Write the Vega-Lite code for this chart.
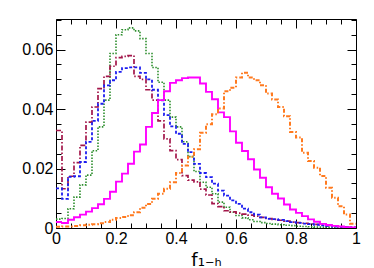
{
  "$schema": "https://vega.github.io/schema/vega-lite/v6.json",
  "width": 300,
  "height": 209,
  "autosize": {"type": "none"},
  "padding": {"left": 56, "top": 19, "right": 18, "bottom": 40},
  "background": "white",
  "config": {
    "view": {"stroke": "black", "strokeWidth": 1},
    "font": "Liberation Sans",
    "axis": {
      "domain": false,
      "grid": false,
      "tickColor": "black",
      "tickWidth": 1,
      "labelColor": "black",
      "labelFont": "Liberation Sans",
      "labelFontSize": 16,
      "labelFlush": false,
      "labelOverlap": false,
      "format": "~g"
    }
  },
  "data": {
    "values": [
      {"s":"G","x":0.00,"y":0.0030},{"s":"G","x":0.02,"y":0.0032},{"s":"G","x":0.04,"y":0.0065},{"s":"G","x":0.06,"y":0.0104},{"s":"G","x":0.08,"y":0.0145},
      {"s":"G","x":0.10,"y":0.0178},{"s":"G","x":0.12,"y":0.0260},{"s":"G","x":0.14,"y":0.0340},{"s":"G","x":0.16,"y":0.0430},{"s":"G","x":0.18,"y":0.0587},
      {"s":"G","x":0.20,"y":0.0650},{"s":"G","x":0.22,"y":0.0667},{"s":"G","x":0.24,"y":0.0673},{"s":"G","x":0.26,"y":0.0663},{"s":"G","x":0.28,"y":0.0637},
      {"s":"G","x":0.30,"y":0.0587},{"s":"G","x":0.32,"y":0.0540},{"s":"G","x":0.34,"y":0.0490},{"s":"G","x":0.36,"y":0.0430},{"s":"G","x":0.38,"y":0.0373},
      {"s":"G","x":0.40,"y":0.0340},{"s":"G","x":0.42,"y":0.0290},{"s":"G","x":0.44,"y":0.0240},{"s":"G","x":0.46,"y":0.0190},{"s":"G","x":0.48,"y":0.0154},
      {"s":"G","x":0.50,"y":0.0137},{"s":"G","x":0.52,"y":0.0115},{"s":"G","x":0.54,"y":0.0087},{"s":"G","x":0.56,"y":0.0070},{"s":"G","x":0.58,"y":0.0053},
      {"s":"G","x":0.60,"y":0.0042},{"s":"G","x":0.62,"y":0.0034},{"s":"G","x":0.64,"y":0.0028},{"s":"G","x":0.66,"y":0.0022},{"s":"G","x":0.68,"y":0.0018},
      {"s":"G","x":0.70,"y":0.0015},{"s":"G","x":0.72,"y":0.0013},{"s":"G","x":0.74,"y":0.0011},{"s":"G","x":0.76,"y":0.0009},{"s":"G","x":0.78,"y":0.0008},
      {"s":"G","x":0.80,"y":0.0006},{"s":"G","x":0.82,"y":0.0005},{"s":"G","x":0.84,"y":0.0004},{"s":"G","x":0.86,"y":0.0003},{"s":"G","x":0.88,"y":0.0003},
      {"s":"G","x":0.90,"y":0.0002},{"s":"G","x":0.92,"y":0.0001},{"s":"G","x":0.94,"y":0.0001},{"s":"G","x":0.96,"y":0.0001},{"s":"G","x":0.98,"y":0.0001},
      {"s":"G","x":1.00,"y":0.0001},

      {"s":"M","x":0.00,"y":0.0328},{"s":"M","x":0.02,"y":0.0132},{"s":"M","x":0.04,"y":0.0174},{"s":"M","x":0.06,"y":0.0220},{"s":"M","x":0.08,"y":0.0278},
      {"s":"M","x":0.10,"y":0.0356},{"s":"M","x":0.12,"y":0.0407},{"s":"M","x":0.14,"y":0.0469},{"s":"M","x":0.16,"y":0.0510},{"s":"M","x":0.18,"y":0.0544},
      {"s":"M","x":0.20,"y":0.0573},{"s":"M","x":0.22,"y":0.0577},{"s":"M","x":0.24,"y":0.0580},{"s":"M","x":0.26,"y":0.0510},{"s":"M","x":0.28,"y":0.0500},
      {"s":"M","x":0.30,"y":0.0465},{"s":"M","x":0.32,"y":0.0430},{"s":"M","x":0.34,"y":0.0360},{"s":"M","x":0.36,"y":0.0300},{"s":"M","x":0.38,"y":0.0260},
      {"s":"M","x":0.40,"y":0.0230},{"s":"M","x":0.42,"y":0.0176},{"s":"M","x":0.44,"y":0.0161},{"s":"M","x":0.46,"y":0.0155},{"s":"M","x":0.48,"y":0.0131},
      {"s":"M","x":0.50,"y":0.0111},{"s":"M","x":0.52,"y":0.0082},{"s":"M","x":0.54,"y":0.0072},{"s":"M","x":0.56,"y":0.0058},{"s":"M","x":0.58,"y":0.0054},
      {"s":"M","x":0.60,"y":0.0050},{"s":"M","x":0.62,"y":0.0047},{"s":"M","x":0.64,"y":0.0043},{"s":"M","x":0.66,"y":0.0040},{"s":"M","x":0.68,"y":0.0036},
      {"s":"M","x":0.70,"y":0.0032},{"s":"M","x":0.72,"y":0.0029},{"s":"M","x":0.74,"y":0.0026},{"s":"M","x":0.76,"y":0.0023},{"s":"M","x":0.78,"y":0.0020},
      {"s":"M","x":0.80,"y":0.0018},{"s":"M","x":0.82,"y":0.0016},{"s":"M","x":0.84,"y":0.0014},{"s":"M","x":0.86,"y":0.0012},{"s":"M","x":0.88,"y":0.0010},
      {"s":"M","x":0.90,"y":0.0008},{"s":"M","x":0.92,"y":0.0006},{"s":"M","x":0.94,"y":0.0005},{"s":"M","x":0.96,"y":0.0003},{"s":"M","x":0.98,"y":0.0002},
      {"s":"M","x":1.00,"y":0.0002},

      {"s":"B","x":0.00,"y":0.0133},{"s":"B","x":0.02,"y":0.0098},{"s":"B","x":0.04,"y":0.0172},{"s":"B","x":0.06,"y":0.0174},{"s":"B","x":0.08,"y":0.0222},
      {"s":"B","x":0.10,"y":0.0290},{"s":"B","x":0.12,"y":0.0360},{"s":"B","x":0.14,"y":0.0418},{"s":"B","x":0.16,"y":0.0480},{"s":"B","x":0.18,"y":0.0497},
      {"s":"B","x":0.20,"y":0.0525},{"s":"B","x":0.22,"y":0.0538},{"s":"B","x":0.24,"y":0.0540},{"s":"B","x":0.26,"y":0.0540},{"s":"B","x":0.28,"y":0.0522},
      {"s":"B","x":0.30,"y":0.0500},{"s":"B","x":0.32,"y":0.0465},{"s":"B","x":0.34,"y":0.0429},{"s":"B","x":0.36,"y":0.0380},{"s":"B","x":0.38,"y":0.0342},
      {"s":"B","x":0.40,"y":0.0317},{"s":"B","x":0.42,"y":0.0283},{"s":"B","x":0.44,"y":0.0255},{"s":"B","x":0.46,"y":0.0216},{"s":"B","x":0.48,"y":0.0185},
      {"s":"B","x":0.50,"y":0.0171},{"s":"B","x":0.52,"y":0.0149},{"s":"B","x":0.54,"y":0.0126},{"s":"B","x":0.56,"y":0.0109},{"s":"B","x":0.58,"y":0.0093},
      {"s":"B","x":0.60,"y":0.0081},{"s":"B","x":0.62,"y":0.0065},{"s":"B","x":0.64,"y":0.0053},{"s":"B","x":0.66,"y":0.0045},{"s":"B","x":0.68,"y":0.0036},
      {"s":"B","x":0.70,"y":0.0031},{"s":"B","x":0.72,"y":0.0030},{"s":"B","x":0.74,"y":0.0027},{"s":"B","x":0.76,"y":0.0023},{"s":"B","x":0.78,"y":0.0020},
      {"s":"B","x":0.80,"y":0.0017},{"s":"B","x":0.82,"y":0.0015},{"s":"B","x":0.84,"y":0.0013},{"s":"B","x":0.86,"y":0.0011},{"s":"B","x":0.88,"y":0.0009},
      {"s":"B","x":0.90,"y":0.0007},{"s":"B","x":0.92,"y":0.0005},{"s":"B","x":0.94,"y":0.0004},{"s":"B","x":0.96,"y":0.0003},{"s":"B","x":0.98,"y":0.0002},
      {"s":"B","x":1.00,"y":0.0002},

      {"s":"P","x":0.00,"y":0.0020},{"s":"P","x":0.02,"y":0.0017},{"s":"P","x":0.04,"y":0.0028},{"s":"P","x":0.06,"y":0.0036},{"s":"P","x":0.08,"y":0.0045},
      {"s":"P","x":0.10,"y":0.0055},{"s":"P","x":0.12,"y":0.0067},{"s":"P","x":0.14,"y":0.0080},{"s":"P","x":0.16,"y":0.0098},{"s":"P","x":0.18,"y":0.0122},
      {"s":"P","x":0.20,"y":0.0156},{"s":"P","x":0.22,"y":0.0183},{"s":"P","x":0.24,"y":0.0216},{"s":"P","x":0.26,"y":0.0257},{"s":"P","x":0.28,"y":0.0281},
      {"s":"P","x":0.30,"y":0.0340},{"s":"P","x":0.32,"y":0.0387},{"s":"P","x":0.34,"y":0.0430},{"s":"P","x":0.36,"y":0.0460},{"s":"P","x":0.38,"y":0.0488},
      {"s":"P","x":0.40,"y":0.0497},{"s":"P","x":0.42,"y":0.0504},{"s":"P","x":0.44,"y":0.0506},{"s":"P","x":0.46,"y":0.0506},{"s":"P","x":0.48,"y":0.0486},
      {"s":"P","x":0.50,"y":0.0458},{"s":"P","x":0.52,"y":0.0433},{"s":"P","x":0.54,"y":0.0389},{"s":"P","x":0.56,"y":0.0373},{"s":"P","x":0.58,"y":0.0325},
      {"s":"P","x":0.60,"y":0.0287},{"s":"P","x":0.62,"y":0.0259},{"s":"P","x":0.64,"y":0.0231},{"s":"P","x":0.66,"y":0.0197},{"s":"P","x":0.68,"y":0.0169},
      {"s":"P","x":0.70,"y":0.0137},{"s":"P","x":0.72,"y":0.0115},{"s":"P","x":0.74,"y":0.0099},{"s":"P","x":0.76,"y":0.0079},{"s":"P","x":0.78,"y":0.0062},
      {"s":"P","x":0.80,"y":0.0051},{"s":"P","x":0.82,"y":0.0040},{"s":"P","x":0.84,"y":0.0029},{"s":"P","x":0.86,"y":0.0021},{"s":"P","x":0.88,"y":0.0014},
      {"s":"P","x":0.90,"y":0.0010},{"s":"P","x":0.92,"y":0.0007},{"s":"P","x":0.94,"y":0.0005},{"s":"P","x":0.96,"y":0.0003},{"s":"P","x":0.98,"y":0.0002},
      {"s":"P","x":1.00,"y":0.0002},

      {"s":"O","x":0.00,"y":0.0004},{"s":"O","x":0.02,"y":0.0005},{"s":"O","x":0.04,"y":0.0005},{"s":"O","x":0.06,"y":0.0007},{"s":"O","x":0.08,"y":0.0009},
      {"s":"O","x":0.10,"y":0.0011},{"s":"O","x":0.12,"y":0.0013},{"s":"O","x":0.14,"y":0.0016},{"s":"O","x":0.16,"y":0.0020},{"s":"O","x":0.18,"y":0.0028},
      {"s":"O","x":0.20,"y":0.0034},{"s":"O","x":0.22,"y":0.0037},{"s":"O","x":0.24,"y":0.0043},{"s":"O","x":0.26,"y":0.0053},{"s":"O","x":0.28,"y":0.0068},
      {"s":"O","x":0.30,"y":0.0081},{"s":"O","x":0.32,"y":0.0098},{"s":"O","x":0.34,"y":0.0115},{"s":"O","x":0.36,"y":0.0132},{"s":"O","x":0.38,"y":0.0154},
      {"s":"O","x":0.40,"y":0.0185},{"s":"O","x":0.42,"y":0.0210},{"s":"O","x":0.44,"y":0.0240},{"s":"O","x":0.46,"y":0.0265},{"s":"O","x":0.48,"y":0.0320},
      {"s":"O","x":0.50,"y":0.0349},{"s":"O","x":0.52,"y":0.0383},{"s":"O","x":0.54,"y":0.0402},{"s":"O","x":0.56,"y":0.0460},{"s":"O","x":0.58,"y":0.0472},
      {"s":"O","x":0.60,"y":0.0506},{"s":"O","x":0.62,"y":0.0522},{"s":"O","x":0.64,"y":0.0506},{"s":"O","x":0.66,"y":0.0497},{"s":"O","x":0.68,"y":0.0480},
      {"s":"O","x":0.70,"y":0.0452},{"s":"O","x":0.72,"y":0.0432},{"s":"O","x":0.74,"y":0.0407},{"s":"O","x":0.76,"y":0.0376},{"s":"O","x":0.78,"y":0.0323},
      {"s":"O","x":0.80,"y":0.0304},{"s":"O","x":0.82,"y":0.0253},{"s":"O","x":0.84,"y":0.0225},{"s":"O","x":0.86,"y":0.0203},{"s":"O","x":0.88,"y":0.0175},
      {"s":"O","x":0.90,"y":0.0135},{"s":"O","x":0.92,"y":0.0102},{"s":"O","x":0.94,"y":0.0073},{"s":"O","x":0.96,"y":0.0045},{"s":"O","x":0.98,"y":0.0014},
      {"s":"O","x":1.00,"y":0.0014}
    ]
  },
  "layer": [
    {
      "mark": {"type": "line", "interpolate": "step-after", "clip": true},
      "encoding": {
        "x": {
          "field": "x", "type": "quantitative",
          "scale": {"domain": [0, 1], "nice": false, "zero": false},
          "axis": {
            "orient": "bottom",
            "title": "f₁₋ₕ",
            "titleFont": "DejaVu Sans",
            "titleFontSize": 18,
            "titleFontWeight": "normal",
            "titleColor": "black",
            "titlePadding": 1,
            "values": [0,0.05,0.1,0.15,0.2,0.25,0.3,0.35,0.4,0.45,0.5,0.55,0.6,0.65,0.7,0.75,0.8,0.85,0.9,0.95,1],
            "labelExpr": "indexof([0,0.2,0.4,0.6,0.8,1], datum.value) >= 0 ? datum.label : ''",
            "tickSize": {"condition": {"test": "indexof([0,0.2,0.4,0.6,0.8,1], datum.value) >= 0", "value": -9}, "value": -5},
            "labelPadding": 11
          }
        },
        "y": {
          "field": "y", "type": "quantitative",
          "scale": {"domain": [0, 0.0703], "nice": false, "zero": true},
          "axis": {
            "orient": "left",
            "title": null,
            "values": [0,0.005,0.01,0.015,0.02,0.025,0.03,0.035,0.04,0.045,0.05,0.055,0.06,0.065,0.07],
            "labelExpr": "indexof([0,0.02,0.04,0.06], datum.value) >= 0 ? datum.label : ''",
            "tickSize": {"condition": {"test": "indexof([0,0.02,0.04,0.06], datum.value) >= 0", "value": -9}, "value": -5},
            "labelPadding": 12
          }
        },
        "color": {
          "field": "s", "type": "nominal", "legend": null,
          "scale": {"domain": ["G","M","B","P","O"], "range": ["#2f8f2f","#a3164a","#1c1cf0","#ff00ff","#ff7a1f"]}
        },
        "strokeDash": {
          "field": "s", "type": "nominal", "legend": null,
          "scale": {"domain": ["G","M","B","P","O"], "range": [[1.5,1.5],[5,2,1.5,2],[3,2],[1,0],[4,2,1.5,2]]}
        },
        "strokeWidth": {
          "field": "s", "type": "nominal", "legend": null,
          "scale": {"domain": ["G","M","B","P","O"], "range": [1.6,2,2,2,2]}
        }
      }
    },
    {
      "mark": {"type": "point", "opacity": 0, "size": 0},
      "encoding": {
        "x": {
          "field": "x", "type": "quantitative",
          "axis": {
            "orient": "top",
            "title": null,
            "labels": false,
            "values": [0,0.05,0.1,0.15,0.2,0.25,0.3,0.35,0.4,0.45,0.5,0.55,0.6,0.65,0.7,0.75,0.8,0.85,0.9,0.95,1],
            "tickSize": {"condition": {"test": "indexof([0,0.2,0.4,0.6,0.8,1], datum.value) >= 0", "value": -9}, "value": -5}
          }
        },
        "y": {
          "field": "y", "type": "quantitative",
          "axis": {
            "orient": "right",
            "title": null,
            "labels": false,
            "values": [0,0.005,0.01,0.015,0.02,0.025,0.03,0.035,0.04,0.045,0.05,0.055,0.06,0.065,0.07],
            "tickSize": {"condition": {"test": "indexof([0,0.02,0.04,0.06], datum.value) >= 0", "value": -9}, "value": -5}
          }
        }
      }
    }
  ],
  "resolve": {"axis": {"x": "independent", "y": "independent"}}
}
